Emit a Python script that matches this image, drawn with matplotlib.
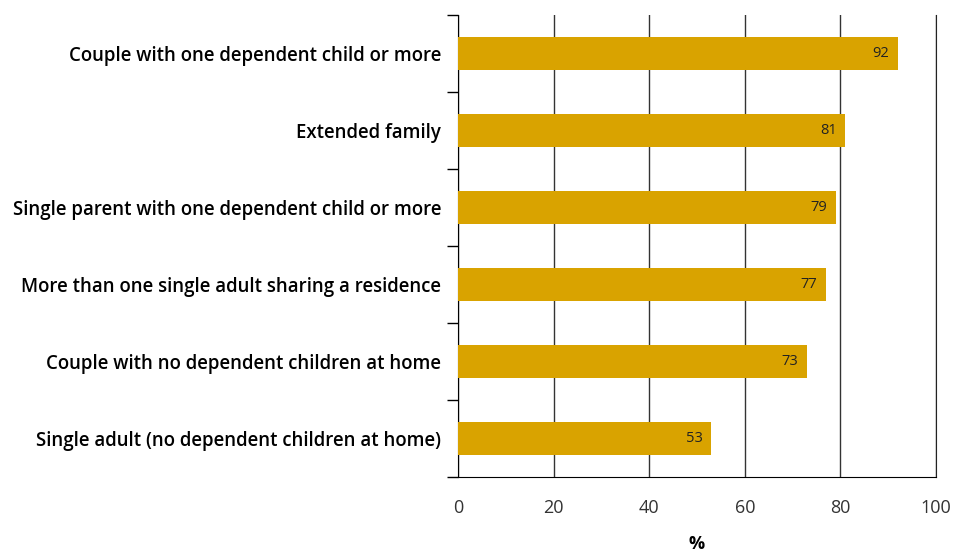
import matplotlib.pyplot as plt
import numpy as np

categories = [
    'Couple with one dependent child or more',
    'Extended family',
    'Single parent with one dependent child or more',
    'More than one single adult sharing a residence',
    'Couple with no dependent children at home',
    'Single adult (no dependent children at home)',
]
values = [92, 81, 79, 77, 73, 53]
xticks = [0, 20, 40, 60, 80, 100]

plt.rcParams['font.family'] = ['Open Sans', 'DejaVu Sans']

fig = plt.figure(figsize=(9.55, 5.54), dpi=100)
ax = fig.add_axes([0.4796, 0.139, 0.5005, 0.834])

y = np.arange(len(categories))
bars = ax.barh(y, values, height=0.43, color='#d9a300', zorder=3)

for b, v in zip(bars, values):
    ax.text(v - 1.8, b.get_y() + b.get_height() / 2, str(v),
            ha='right', va='center', fontsize=10.5, color='#222222', zorder=4)

ax.set_xlim(0, 100)
ax.set_ylim(len(categories) - 0.5, -0.5)
ax.set_xticks(xticks)
ax.tick_params(axis='x', length=0, pad=16, labelsize=13, colors='#333333')

# category names centred on the bars, tick marks between them
ax.set_yticks(y)
ax.set_yticklabels(categories, fontsize=13.4, fontweight='semibold')
ax.tick_params(axis='y', which='major', length=0, pad=12)
ax.set_yticks(np.arange(-0.5, len(categories)), minor=True)
ax.tick_params(axis='y', which='minor', length=8, width=1, color='black')

ax.grid(axis='x', color='#333333', linewidth=1, zorder=0)
ax.spines['top'].set_visible(False)
ax.spines['right'].set_color('#222222')
ax.spines['left'].set_color('black')
ax.spines['bottom'].set_color('black')

ax.set_xlabel('%', fontsize=13, fontweight='bold', labelpad=13)

fig.savefig('out.png', dpi=100)
